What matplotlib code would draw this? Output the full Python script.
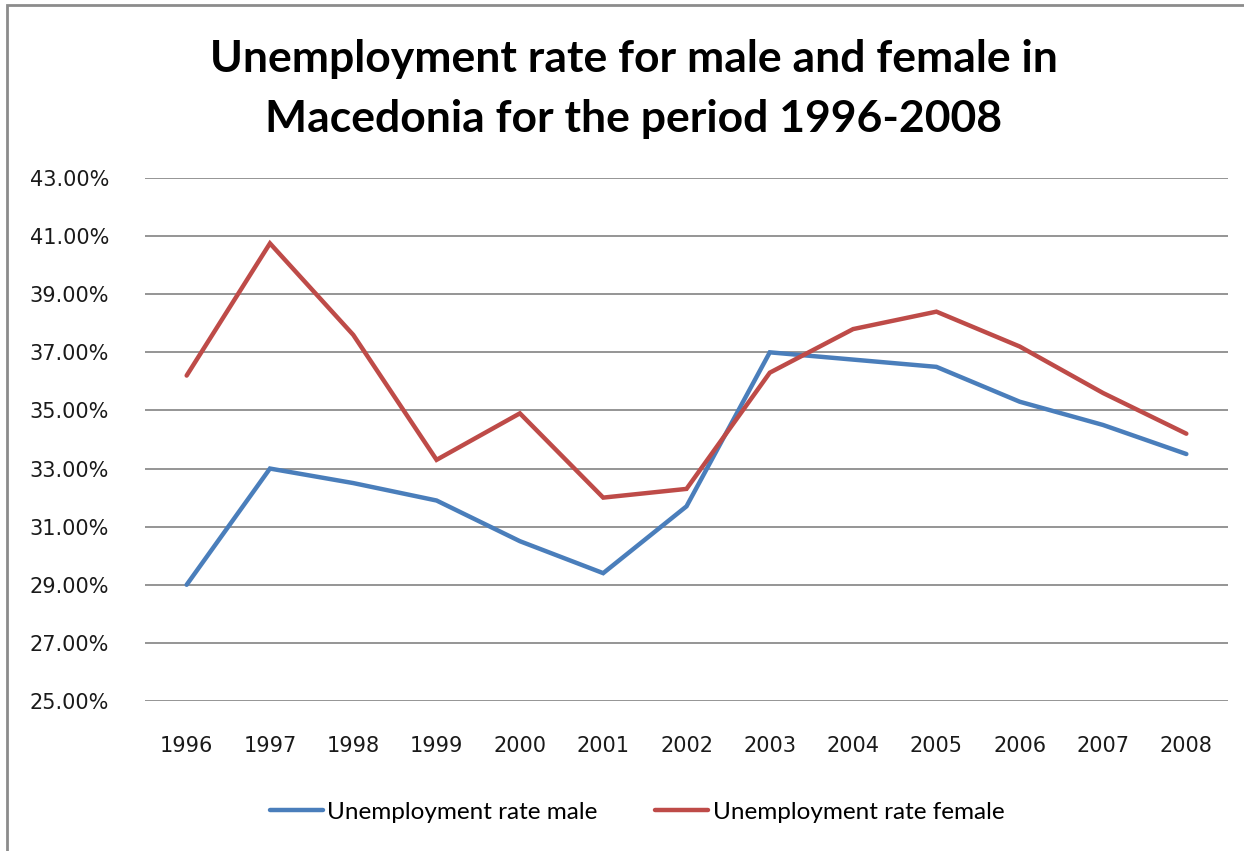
import matplotlib
matplotlib.use("Agg")
import matplotlib.pyplot as plt
from matplotlib.ticker import FuncFormatter
from matplotlib.patches import Rectangle

years = ["1996", "1997", "1998", "1999", "2000", "2001", "2002",
         "2003", "2004", "2005", "2006", "2007", "2008"]
male = [29.0, 33.0, 32.5, 31.9, 30.5, 29.4, 31.7, 37.0, 36.75, 36.5, 35.3, 34.5, 33.5]
female = [36.2, 40.75, 37.6, 33.3, 34.9, 32.0, 32.3, 36.3, 37.8, 38.4, 37.2, 35.6, 34.2]
yticks = [25, 27, 29, 31, 33, 35, 37, 39, 41, 43]
title = "Unemployment rate for male and female in\nMacedonia for the period 1996-2008"
labels = ["Unemployment rate male", "Unemployment rate female"]

fig = plt.figure(figsize=(12.44, 8.51), dpi=100)
ax = fig.add_axes([145/1244, 1-701/851, (1228-145)/1244, (701-178)/851])

x = list(range(len(years)))
l1, = ax.plot(x, male, color="#4A7EBB", lw=3.2, solid_capstyle="round", solid_joinstyle="miter", zorder=3)
l2, = ax.plot(x, female, color="#BE4B48", lw=3.2, solid_capstyle="round", solid_joinstyle="miter", zorder=3)

ax.set_xlim(-0.5, len(years)-0.5)
ax.set_ylim(25, 43)
ax.set_yticks(yticks)
ax.yaxis.set_major_formatter(FuncFormatter(lambda v, p: f"{v:.2f}%"))
ax.set_xticks(x)
ax.set_xticklabels(years)
ax.grid(axis="y", color="#8C8C8C", lw=1.3, zorder=0)
for s in ax.spines.values():
    s.set_visible(False)
ax.tick_params(axis="both", length=0, labelsize=15, colors="#1a1a1a")
ax.tick_params(axis="y", pad=26)
ax.tick_params(axis="x", pad=25)
for lab in ax.get_xticklabels() + ax.get_yticklabels():
    lab.set_fontfamily("DejaVu Sans")

fig.text(634/1244, 1-89/851, title, ha="center", va="center", fontsize=32,
         fontweight="bold", family="Lato", linespacing=1.6)

leg = fig.legend([l1, l2], labels, loc="center", bbox_to_anchor=(637/1244, 1-812/851),
                 ncol=2, frameon=False, prop={"family": "Lato", "size": 17.5},
                 handlelength=2.2, handletextpad=0.17, columnspacing=2.35)

fig.patches.append(Rectangle((7/1244, -0.1), 1.2, 1-5/851+0.1, transform=fig.transFigure,
                             fill=False, edgecolor="#8C8C8C", lw=2))

fig.savefig("out.png", dpi=100)
